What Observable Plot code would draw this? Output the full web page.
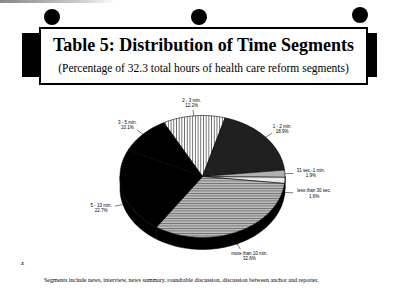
<!DOCTYPE html>
<html>
<head>
<meta charset="utf-8">
<script src="https://cdn.jsdelivr.net/npm/d3@7"></script>
<script src="https://cdn.jsdelivr.net/npm/@observablehq/plot@0.6"></script>
<style>
  html, body { margin: 0; padding: 0; background: #fff; }
  #root { position: relative; width: 400px; height: 305px; overflow: hidden; background: #fff; }
  #root svg { position: absolute; left: 0; top: 0; }
  .hole { position: absolute; background: #000; border-radius: 50%; }
  .tab { position: absolute; background: #000; }
  #box { position: absolute; left: 39px; top: 27px; width: 325px; height: 54px; border: 2px solid #000; background: #fff; }
  #title { position: absolute; left: 0; width: 100%; top: 6px; text-align: center; font-family: "Liberation Serif", "DejaVu Serif", serif; font-weight: bold; font-size: 18px; color: #000; white-space: nowrap; }
  #subtitle { position: absolute; left: 0; width: 100%; top: 33px; text-align: center; font-family: "Liberation Serif", "DejaVu Serif", serif; font-size: 11.5px; color: #000; white-space: nowrap; }
  #footer { position: absolute; left: 44px; top: 277px; font-family: "Liberation Serif", serif; font-size: 6px; color: #000; white-space: nowrap; }
  #pagemark { position: absolute; left: 21px; top: 259px; font-family: "Liberation Serif", serif; font-size: 7px; color: #000; }
  #scan { position: absolute; left: 0; top: 0; width: 115px; height: 3px; background: linear-gradient(to right, #888, #ccc 70%, #fff); }
</style>
</head>
<body>
<div id="root">
  <div id="scan"></div>
  <div class="hole" style="left:44px;top:9px;width:16px;height:16px;"></div>
  <div class="hole" style="left:191px;top:9px;width:16px;height:16px;"></div>
  <div class="hole" style="left:352px;top:7px;width:16px;height:16px;"></div>
  <div class="tab" style="left:22px;top:33px;width:20px;height:44px;"></div>
  <div class="tab" style="left:360px;top:33px;width:17px;height:44px;"></div>
  <div id="box">
    <div id="title">Table 5: Distribution of Time Segments</div>
    <div id="subtitle">(Percentage of 32.3 total hours of health care reform segments)</div>
  </div>
  <div id="pagemark">z</div>
  <div id="footer">Segments include news, interview, news summary, roundtable discussion, discussion between anchor and reporter.</div>
</div>
<script>
// ---- data ----
const categories = ["2 - 3 min.", "1 - 2 min.", "31 sec.-1 min.", "less than 30 sec.", "more than 10 min.", "5 - 10 min.", "3 - 5 min."];
const percents = [12.2, 18.9, 1.9, 1.6, 32.6, 22.7, 10.1];

// ---- styles (pattern ids per slice) ----
const sliceFills = ["url(#pVert)", "url(#pDark)", "url(#pGrid)", "url(#pLight)", "url(#pHoriz)", "#000", "#000"];

// ---- layout ----
const startDeg = -28;
const rxPx = 82.5, ryPx = 61, cxPx = 202, cyPx = 176, W = 400, H = 305;
const depth = 12 / ryPx; // side thickness in y units
const fontSize = 4.5;

const pie = d3.pie().sort(null).value(d => d.value)
  .startAngle(startDeg * Math.PI / 180)
  .endAngle((startDeg + 360) * Math.PI / 180);
const arcs = pie(categories.map((c, i) => ({category: c, value: percents[i], i})));

const topPts = [];
const sidePts = [];
for (const a of arcs) {
  const key = a.data.i;
  const n = Math.max(4, Math.ceil((a.endAngle - a.startAngle) / 0.02));
  topPts.push({x: 0, y: 0, key, fill: sliceFills[key]});
  for (let k = 0; k <= n; k++) {
    const t = a.startAngle + (a.endAngle - a.startAngle) * k / n;
    topPts.push({x: Math.sin(t), y: Math.cos(t), key, fill: sliceFills[key]});
  }
  topPts.push({x: 0, y: 0, key, fill: sliceFills[key]});
  const lo = Math.max(a.startAngle, Math.PI / 2), hi = Math.min(a.endAngle, 3 * Math.PI / 2);
  if (lo < hi) {
    const m = Math.max(3, Math.ceil((hi - lo) / 0.02));
    const upper = [], lower = [];
    for (let k = 0; k <= m; k++) {
      const t = lo + (hi - lo) * k / m;
      upper.push({x: Math.sin(t), y: Math.cos(t), key});
      lower.push({x: Math.sin(t), y: Math.cos(t) - depth, key});
    }
    sidePts.push(...upper, ...lower.reverse(), upper[0]);
  }
}

// labels: leader from rim to 1.1 radius, text block just beyond it
const labels = arcs.map(a => {
  const mid = (a.startAngle + a.endAngle) / 2;
  const s = Math.sin(mid), c = Math.cos(mid);
  const off = c < 0 ? depth : 0;
  const hw = a.data.category.length * fontSize * 0.25 + 2; // half width in px
  const hh = fontSize * 1.15 + 2; // half height in px
  const x2 = 1.1 * s, y2 = 1.1 * c - off;
  return {
    text: `${a.data.category}\n${a.data.value.toFixed(1)}%`,
    x: x2 + s * hw / rxPx,
    y: y2 + c * hh / ryPx,
    x1: s, y1: c - off, x2, y2
  };
});
const right = labels.filter(d => d.x > 0).sort((a, b) => b.y - a.y);
for (let i = 0; i + 1 < right.length; i++) {
  const gap = right[i].y - right[i + 1].y;
  if (gap < 0.3) { const d = (0.3 - gap) / 2; right[i].y += d; right[i + 1].y -= d; }
}

const svg = Plot.plot({
  width: W, height: H, margin: 0,
  x: {domain: [-cxPx / rxPx, (W - cxPx) / rxPx], axis: null},
  y: {domain: [-(H - cyPx) / ryPx, cyPx / ryPx], axis: null},
  color: {type: "identity"},
  style: {background: "transparent", overflow: "visible"},
  marks: [
    Plot.line(sidePts, {x: "x", y: "y", z: "key", fill: "#000", stroke: "#000", strokeWidth: 0.5}),
    Plot.line(topPts, {x: "x", y: "y", z: "key", fill: "fill", stroke: "#000", strokeWidth: 0.6}),
    Plot.link(labels, {x1: "x1", y1: "y1", x2: "x2", y2: "y2", stroke: "#000", strokeWidth: 0.5}),
    Plot.text(labels, {x: "x", y: "y", text: "text", fontSize, fontFamily: "Liberation Sans, Arial, sans-serif", lineHeight: 1.15, fill: "#000"})
  ]
});

const defs = d3.select(svg).insert("defs", ":first-child");
function pat(id, w, h, bg, draw) {
  const p = defs.append("pattern").attr("id", id).attr("patternUnits", "userSpaceOnUse").attr("width", w).attr("height", h);
  p.append("rect").attr("width", w).attr("height", h).attr("fill", bg);
  draw(p);
}
pat("pVert", 2.7, 2.7, "#fff", p => p.append("rect").attr("width", 0.8).attr("height", 2.7).attr("fill", "#555"));
pat("pDark", 2, 2, "#141414", p => p.append("rect").attr("width", 0.6).attr("height", 2).attr("fill", "#3a3a3a"));
pat("pGrid", 2, 2, "#fff", p => { p.append("rect").attr("width", 2).attr("height", 0.6).attr("fill", "#666"); p.append("rect").attr("width", 0.6).attr("height", 2).attr("fill", "#666"); });
pat("pLight", 3, 3, "#f0f0f0", p => p.append("rect").attr("width", 3).attr("height", 0.4).attr("fill", "#bbb"));
pat("pHoriz", 2.5, 2.5, "#bdbdbd", p => p.append("rect").attr("width", 2.5).attr("height", 0.9).attr("fill", "#6e6e6e"));

document.getElementById("root").insertBefore(svg, document.getElementById("root").firstChild);
</script>
</body>
</html>
